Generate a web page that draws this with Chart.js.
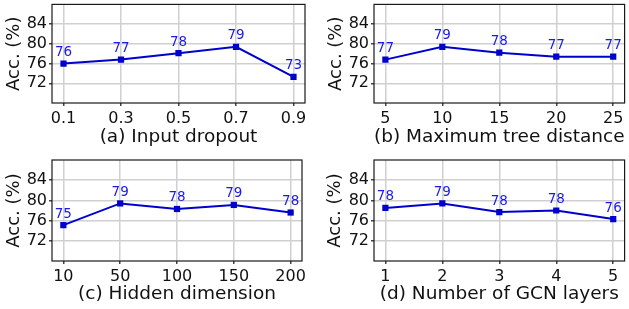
<!DOCTYPE html>
<html><head><meta charset="utf-8">
<script src="https://cdn.jsdelivr.net/npm/chart.js@4"></script>
<style>
html,body{margin:0;padding:0;background:#fff;width:629px;height:309px;overflow:hidden}
canvas{position:absolute;display:block}
</style></head><body>
<canvas id="ca" width="314" height="155" style="left:0;top:0"></canvas>
<canvas id="cb" width="315" height="155" style="left:314px;top:0"></canvas>
<canvas id="cc" width="314" height="154" style="left:0;top:155px"></canvas>
<canvas id="cd" width="315" height="154" style="left:314px;top:155px"></canvas>
<script>
// ---- data ----
const dropoutCats = ['0.1','0.3','0.5','0.7','0.9'];
const dropoutAcc  = [76.0, 76.8, 78.1, 79.4, 73.3];
const dropoutLbl  = ['76','77','78','79','73'];

const treeCats = ['5','10','15','20','25'];
const treeAcc  = [76.8, 79.4, 78.2, 77.4, 77.4];
const treeLbl  = ['77','79','78','77','77'];

const hiddenCats = ['10','50','100','150','200'];
const hiddenAcc  = [75.1, 79.4, 78.3, 79.1, 77.6];
const hiddenLbl  = ['75','79','78','79','78'];

const gcnCats = ['1','2','3','4','5'];
const gcnAcc  = [78.5, 79.4, 77.7, 78.0, 76.3];
const gcnLbl  = ['78','79','78','78','76'];

const yTicks = [72, 76, 80, 84];
const yMin = 68, yMax = 88;
const yTitle = 'Acc. (%)';

// ---- styling ----
const FONT = "'DejaVu Sans', sans-serif";
const LINE = '#0000CD';
const TEXT_BLUE = '#1a1ae6';

const framePlugin = {
  id: 'frame',
  afterDraw(chart) {
    const {ctx, chartArea: a} = chart;
    ctx.save();
    ctx.strokeStyle = '#1a1a1a';
    ctx.lineWidth = 1.2;
    ctx.strokeRect(a.left, a.top, a.right - a.left, a.bottom - a.top);
    ctx.restore();
  }
};

const labelPlugin = {
  id: 'valueLabels',
  afterDatasetsDraw(chart, args, opts) {
    const {ctx} = chart;
    const meta = chart.getDatasetMeta(0);
    ctx.save();
    ctx.font = '13.5px ' + FONT;
    ctx.fillStyle = TEXT_BLUE;
    ctx.textAlign = 'center';
    ctx.textBaseline = 'alphabetic';
    meta.data.forEach((el, i) => {
      ctx.fillText(opts.labels[i], el.x, el.y - 7.5);
    });
    ctx.restore();
  }
};

function makeChart(id, cats, vals, lbls, title, L) {
  new Chart(document.getElementById(id), {
    type: 'line',
    data: {
      datasets: [{
        data: vals.map((v, i) => ({x: i, y: v})),
        borderColor: LINE,
        backgroundColor: LINE,
        borderWidth: 2,
        pointStyle: 'rect',
        pointRadius: 4.4,
        pointBorderWidth: 0,
        tension: 0
      }]
    },
    options: {
      responsive: false,
      animation: false,
      events: [],
      layout: {padding: {top: L.top, right: L.right, left: 0, bottom: 0}},
      plugins: {legend: {display: false}, tooltip: {enabled: false}, valueLabels: {labels: lbls}},
      scales: {
        x: {
          type: 'linear', min: -0.2, max: cats.length - 1 + 0.2,
          afterBuildTicks(s) { s.ticks = cats.map((c, i) => ({value: i})); },
          afterFit(s) { s.height = L.xh; s.paddingLeft = 0; s.paddingRight = 0; },
          ticks: {
            autoSkip: false, maxRotation: 0, padding: 3,
            color: '#111', font: {family: FONT, size: 16},
            callback: (v) => cats[v]
          },
          grid: {color: '#d0d0d0', lineWidth: 1.5, tickLength: 3, tickColor: '#444', drawTicks: true},
          border: {display: false},
          title: {display: true, text: title, color: '#111', font: {family: FONT, size: 18.5, lineHeight: 1.2}, padding: {top: 0, bottom: L.xtp}}
        },
        y: {
          min: yMin, max: yMax,
          afterBuildTicks(s) { s.ticks = yTicks.map(v => ({value: v})); },
          afterFit(s) { s.width = L.yw; s.paddingTop = 0; s.paddingBottom = 0; },
          ticks: {padding: 2, color: '#111', font: {family: FONT, size: 16}},
          grid: {color: '#d0d0d0', lineWidth: 1.5, tickLength: 3, tickColor: '#444', drawTicks: true},
          border: {display: false},
          title: {display: true, text: yTitle, color: '#111', font: {family: FONT, size: 18, lineHeight: 1.2}, padding: {top: L.ytp, bottom: 0}}
        }
      }
    },
    plugins: [framePlugin, labelPlugin]
  });
}

makeChart('ca', dropoutCats, dropoutAcc, dropoutLbl, '(a) Input dropout',
  {top: 3, right: 9, yw: 52, xh: 52, xtp: 6.5, ytp: 4});
makeChart('cb', treeCats, treeAcc, treeLbl, '(b) Maximum tree distance',
  {top: 3, right: 1, yw: 60, xh: 52, xtp: 6.5, ytp: 11.5});
makeChart('cc', hiddenCats, hiddenAcc, hiddenLbl, '(c) Hidden dimension',
  {top: 5, right: 12, yw: 52, xh: 48, xtp: 3.7, ytp: 4});
makeChart('cd', gcnCats, gcnAcc, gcnLbl, '(d) Number of GCN layers',
  {top: 5, right: 1, yw: 60, xh: 48, xtp: 3.7, ytp: 10.5});
</script>
</body></html>
